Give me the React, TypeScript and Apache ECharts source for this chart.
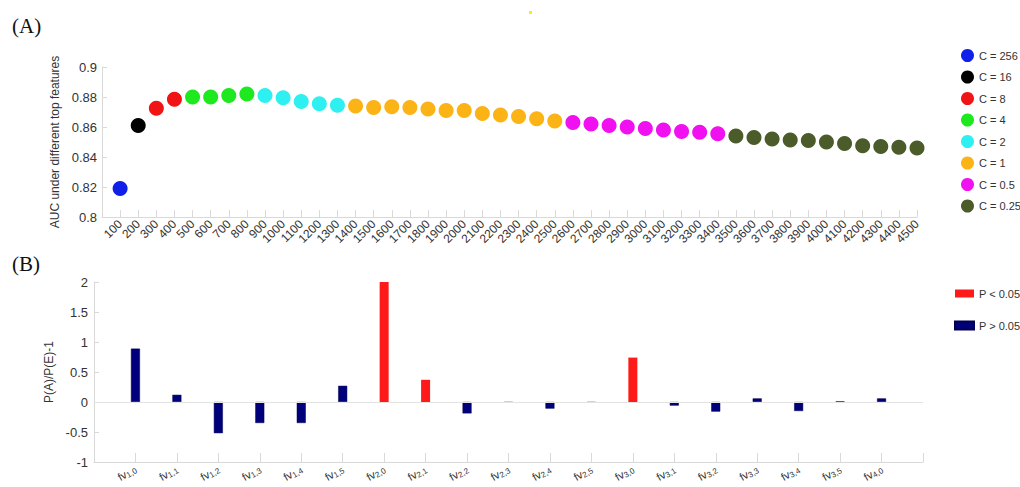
import React, { useEffect, useRef } from 'react';
import * as echarts from 'echarts';

// Panel A data
const featureCounts = ['100', '200', '300', '400', '500', '600', '700', '800', '900', '1000', '1100', '1200', '1300', '1400', '1500', '1600', '1700', '1800', '1900', '2000', '2100', '2200', '2300', '2400', '2500', '2600', '2700', '2800', '2900', '3000', '3100', '3200', '3300', '3400', '3500', '3600', '3700', '3800', '3900', '4000', '4100', '4200', '4300', '4400', '4500'];
const aucValues = [0.819, 0.861, 0.8725, 0.8785, 0.880, 0.880, 0.881, 0.882, 0.881, 0.8795, 0.877, 0.8755, 0.8745, 0.874, 0.873, 0.8735, 0.873, 0.872, 0.871, 0.871, 0.869, 0.868, 0.867, 0.8655, 0.864, 0.863, 0.862, 0.861, 0.860, 0.859, 0.858, 0.857, 0.8565, 0.8555, 0.854, 0.853, 0.852, 0.8513, 0.851, 0.850, 0.849, 0.8475, 0.847, 0.8465, 0.846];
const cLabels = ['C = 256', 'C = 16', 'C = 8', 'C = 4', 'C = 2', 'C = 1', 'C = 0.5', 'C = 0.25'];
const cGroupSizes = [1, 1, 2, 4, 5, 12, 9, 11];
const cColors = ['#1020e8', '#000000', '#f01414', '#1ee81e', '#2ff0f0', '#fbb316', '#f010f0', '#4b5b2a'];

// Panel B data
const fvSubscripts = ['1,0', '1,1', '1,2', '1,3', '1,4', '1,5', '2,0', '2,1', '2,2', '2,3', '2,4', '2,5', '3,0', '3,1', '3,2', '3,3', '3,4', '3,5', '4,0'];
const ratioValues = [0.89, 0.12, -0.52, -0.35, -0.35, 0.27, 2.0, 0.37, -0.19, -0.01, -0.11, -0.01, 0.74, -0.06, -0.16, 0.06, -0.15, 0.01, 0.06];
const significant = [false, false, false, false, false, false, true, true, false, false, false, false, true, false, false, false, false, false, false];
const pLabels = ['P < 0.05', 'P > 0.05'];

const axisGray = '#d9d9d9';
const textColor = '#333333';
const sans = 'Arial, sans-serif';
const serif = 'Liberation Serif';

export default function App() {
  const ref = useRef<HTMLDivElement>(null);

  useEffect(() => {
    if (!ref.current) return;
    const chart = echarts.init(ref.current, undefined, { renderer: 'svg' });

    const scatterSeries: any[] = [];
    let start = 0;
    cGroupSizes.forEach((size, g) => {
      const data: any[] = [];
      for (let i = start; i < start + size; i++) {
        data.push([featureCounts[i], aucValues[i]]);
      }
      start += size;
      scatterSeries.push({
        name: cLabels[g],
        type: 'scatter',
        xAxisIndex: 0,
        yAxisIndex: 0,
        symbolSize: 15,
        itemStyle: { color: cColors[g], opacity: 1 },
        data,
      });
    });

    const fvCats = fvSubscripts.map((s) => 'fv' + s);

    const option: any = {
      animation: false,
      backgroundColor: '#ffffff',
      textStyle: { fontFamily: sans },
      grid: [
        { left: 102, right: 103, top: 67, bottom: 270 },
        { left: 94, right: 97, top: 282, bottom: 25 },
      ],
      xAxis: [
        {
          gridIndex: 0,
          type: 'category',
          data: ['', ...featureCounts],
          boundaryGap: false,
          axisLine: { show: true, lineStyle: { color: axisGray } },
          axisTick: { show: true, inside: true, length: 7, interval: 0, lineStyle: { color: axisGray } },
          axisLabel: { interval: 0, rotate: 45, fontSize: 12, color: textColor, margin: 5, fontFamily: sans },
          splitLine: { show: false },
        },
        {
          gridIndex: 1,
          type: 'category',
          data: ['', ...fvCats, ''],
          boundaryGap: false,
          axisLine: { show: true, onZero: false, lineStyle: { color: axisGray } },
          axisTick: { show: true, inside: true, length: 9, interval: 0, lineStyle: { color: axisGray } },
          axisLabel: {
            interval: 0,
            rotate: 30,
            margin: 6,
            fontFamily: sans,
            formatter: (v: string) => (v ? `{m|fv}{s|${v.slice(2)}}` : ''),
            rich: {
              m: { fontSize: 11, color: textColor, fontFamily: sans },
              s: { fontSize: 8, color: textColor, fontFamily: sans, padding: [5, 0, 0, 0] },
            },
          },
          splitLine: { show: false },
        },
      ],
      yAxis: [
        {
          gridIndex: 0,
          type: 'value',
          min: 0.8,
          max: 0.9,
          interval: 0.02,
          name: 'AUC under different top features',
          nameLocation: 'middle',
          nameRotate: 90,
          nameGap: 33,
          nameTextStyle: { fontSize: 12, color: textColor, fontFamily: sans },
          axisLine: { show: true, lineStyle: { color: axisGray } },
          axisTick: { show: true, inside: true, length: 5, lineStyle: { color: axisGray } },
          axisLabel: { fontSize: 13, color: textColor, margin: 5, fontFamily: sans },
          splitLine: { show: false },
        },
        {
          gridIndex: 1,
          type: 'value',
          min: -1,
          max: 2,
          interval: 0.5,
          name: 'P(A)/P(E)-1',
          nameLocation: 'middle',
          nameRotate: 90,
          nameGap: 27,
          nameTextStyle: { fontSize: 12, color: textColor, fontFamily: sans },
          axisLine: { show: true, lineStyle: { color: axisGray } },
          axisTick: { show: true, inside: true, length: 5, lineStyle: { color: axisGray } },
          axisLabel: { fontSize: 13, color: textColor, margin: 6, fontFamily: sans },
          splitLine: { show: false },
        },
      ],
      legend: [
        {
          data: cLabels,
          orient: 'vertical',
          left: 956,
          top: 44,
          itemWidth: 13,
          itemHeight: 13,
          itemGap: 8.5,
          icon: 'circle',
          textStyle: { fontSize: 11, color: textColor, fontFamily: sans },
        },
        {
          data: pLabels,
          orient: 'vertical',
          left: 949,
          top: 283,
          itemWidth: 19,
          itemHeight: 8,
          itemGap: 21,
          icon: 'rect',
          textStyle: { fontSize: 11, color: textColor, fontFamily: sans },
        },
      ],
      graphic: [
        { type: 'text', left: 12, top: 15, style: { text: '(A)', fontSize: 21, fontFamily: serif, fill: '#111' } },
        { type: 'text', left: 12, top: 253, style: { text: '(B)', fontSize: 21, fontFamily: serif, fill: '#111' } },
        { type: 'rect', shape: { x: 529, y: 11, width: 3, height: 3 }, style: { fill: '#ffee00' } },
      ],
      series: [
        ...scatterSeries,
        {
          name: pLabels[0],
          type: 'bar',
          xAxisIndex: 1,
          yAxisIndex: 1,
          barWidth: 9,
          barGap: '-100%',
          itemStyle: { color: '#ff1a1a' },
          data: ['-', ...ratioValues.map((v, i) => (significant[i] ? v : '-')), '-'],
          markLine: {
            silent: true,
            symbol: 'none',
            label: { show: false },
            lineStyle: { color: '#e3e3e3', type: 'solid', width: 1 },
            data: [{ yAxis: 0 }],
          },
        },
        {
          name: pLabels[1],
          type: 'bar',
          xAxisIndex: 1,
          yAxisIndex: 1,
          barWidth: 9,
          barGap: '-100%',
          itemStyle: { color: '#00007a', borderColor: '#000050', borderWidth: 0.5 },
          data: ['-', ...ratioValues.map((v, i) => (significant[i] ? '-' : v)), '-'],
        },
      ],
    };

    chart.setOption(option);
    return () => chart.dispose();
  }, []);

  return <div ref={ref} style={{ position: 'fixed', left: 0, top: 0, width: 1020, height: 487 }} />;
}
